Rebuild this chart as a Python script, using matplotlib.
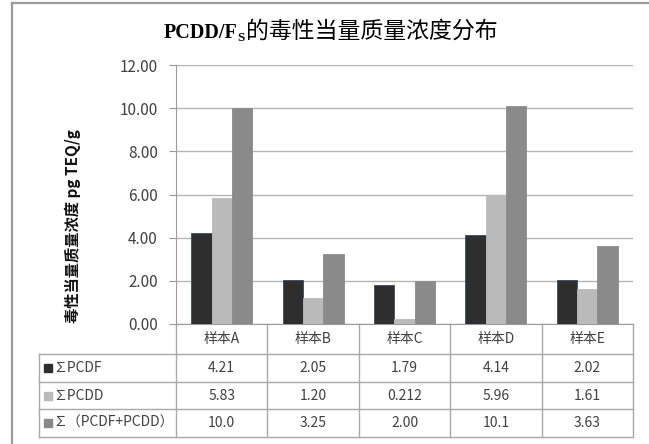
import numpy as np
import matplotlib
matplotlib.use('Agg')
import matplotlib.pyplot as plt
from matplotlib.patches import Rectangle

plt.rcParams['font.family'] = ['Noto Sans CJK SC', 'DejaVu Sans']

# datos
samples = ['样本A', '样本B', '样本C', '样本D', '样本E']
series_names = ['∑PCDF', '∑PCDD', '∑（PCDF+PCDD）']
pcdf = [4.21, 2.05, 1.79, 4.14, 2.02]
pcdd = [5.83, 1.20, 0.212, 5.96, 1.61]
total = [10.0, 3.25, 2.00, 10.1, 3.63]
colors = ['#2e2e2e', '#bababa', '#8a8a8a']
yticks = [0, 2, 4, 6, 8, 10, 12]

W, H = 649, 444
fig = plt.figure(figsize=(W / 100, H / 100), dpi=100)

# capa de dibujo en pixeles (marco, tabla)
bg = fig.add_axes([0, 0, 1, 1])
bg.set_xlim(0, W)
bg.set_ylim(H, 0)
bg.axis('off')

# marco exterior
bg.plot([12, 12], [3, H], color='#9a9a9a', lw=1.6)
bg.plot([12, W], [3, 3], color='#9a9a9a', lw=1.6)

# area del grafico
left, right, top, bottom = 176, 633, 65, 324
ax = fig.add_axes([left / W, 1 - bottom / H, (right - left) / W, (bottom - top) / H])
ax.set_zorder(2)
ax.patch.set_alpha(0)

x = np.arange(len(samples))
w = 1 / 4.5
for k, vals in enumerate([pcdf, pcdd, total]):
    ax.bar(x + (k - 1) * w, vals, width=w, color=colors[k],
           edgecolor='#3c4a66' if k == 0 else colors[k], linewidth=0.6, zorder=3)

ax.set_xlim(-0.5, len(samples) - 0.5)
ax.set_ylim(0, 12)
ax.set_yticks(yticks)
ax.set_yticklabels([f'{v:.2f}' for v in yticks], fontsize=11, color='#404040')
ax.set_xticks([])
ax.yaxis.grid(True, color='#b4b4b4', lw=1)
ax.set_axisbelow(True)
ax.tick_params(axis='y', length=5, color='#9a9a9a', pad=8)
for s in ['top', 'right']:
    ax.spines[s].set_visible(False)
ax.spines['left'].set_color('#9a9a9a')
ax.spines['bottom'].set_color('#9a9a9a')

ax.set_ylabel('毒性当量质量浓度 pg TEQ/g', fontsize=11, fontweight='bold',
              color='#111111')
ax.yaxis.set_label_coords(-0.207, 0.38)

# tabla de datos
colw = (right - left) / len(samples)
row_y = [bottom, 354, 382, 409, 437]
tab_left = 39
lc = '#a8a8a8'
for yy in row_y[1:]:
    bg.plot([tab_left, right], [yy, yy], color=lc, lw=1)
bg.plot([tab_left, tab_left], [row_y[1], row_y[-1]], color=lc, lw=1)
for i in range(len(samples) + 1):
    xx = left + i * colw
    bg.plot([xx, xx], [bottom, row_y[-1]], color=lc, lw=1)

for i, s in enumerate(samples):
    bg.text(left + (i + 0.5) * colw, (row_y[0] + row_y[1]) / 2, s,
            ha='center', va='center', fontsize=10, color='#404040')

for r, vals in enumerate([pcdf, pcdd, total]):
    yc = (row_y[r + 1] + row_y[r + 2]) / 2
    bg.add_patch(Rectangle((44, yc - 4), 8, 8, color=colors[r]))
    bg.text(53, yc, series_names[r], ha='left', va='center', fontsize=10, color='#404040')
    for i, v in enumerate(vals):
        bg.text(left + (i + 0.5) * colw, yc, f'{v:#.3g}', ha='center', va='center',
                fontsize=10, color='#404040')

# titulo
rend = fig.canvas.get_renderer()
t1 = bg.text(164, 38, 'PCDD/F', fontsize=14.5, fontweight='bold',
             family='Liberation Serif', va='baseline', ha='left', color='black')
bb = t1.get_window_extent(rend)
x1 = bg.transData.inverted().transform((bb.x1, 0))[0]
t2 = bg.text(x1, 41, 'S', fontsize=9.5, fontweight='bold',
             family='Liberation Serif', va='baseline', ha='left', color='black')
bb = t2.get_window_extent(rend)
x2 = bg.transData.inverted().transform((bb.x1, 0))[0]
bg.text(x2 + 1, 38, '的毒性当量质量浓度分布', fontsize=16.5, va='baseline', ha='left',
        color='black')

fig.savefig('out.png', dpi=100)
